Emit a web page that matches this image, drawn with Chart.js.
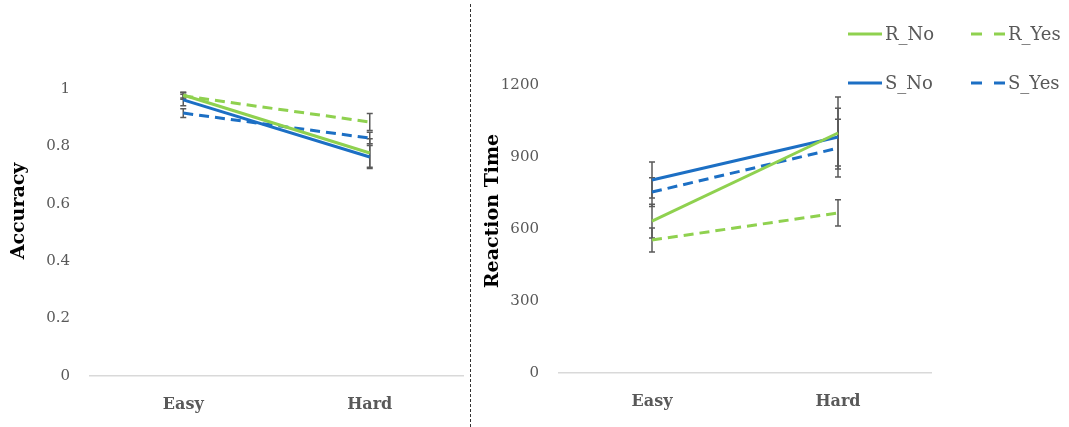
<!DOCTYPE html>
<html><head><meta charset="utf-8">
<script src="https://cdn.jsdelivr.net/npm/chart.js@4/dist/chart.umd.min.js"></script>
<style>
html,body{margin:0;padding:0;background:#fff;}
#wrap{position:relative;width:1069px;height:427px;overflow:hidden;background:#fff;}
#c1{position:absolute;left:0;top:0;width:468px;height:427px;}
#c2{position:absolute;left:472px;top:0;width:597px;height:427px;}
#sep{position:absolute;left:470px;top:4px;height:423px;border-left:1.5px dashed #333;}
</style></head><body>
<div id="wrap"><canvas id="c1" width="468" height="427"></canvas><div id="sep"></div><canvas id="c2" width="597" height="427"></canvas></div>
<script>
// ---- data ----
const categories = ['Easy', 'Hard'];
const seriesNames = ['R_No', 'R_Yes', 'S_No', 'S_Yes'];

const accR_No  = [0.979, 0.777];
const accR_Yes = [0.976, 0.885];
const accS_No  = [0.962, 0.763];
const accS_Yes = [0.916, 0.829];
const accErrR_No  = [0.010, 0.050];
const accErrR_Yes = [0.012, 0.030];
const accErrS_No  = [0.020, 0.040];
const accErrS_Yes = [0.015, 0.020];

const rtR_No  = [633, 1000];
const rtR_Yes = [554, 667];
const rtS_No  = [804, 983];
const rtS_Yes = [754, 937];
const rtErrR_No  = [70, 150];
const rtErrR_Yes = [50, 55];
const rtErrS_No  = [75, 120];
const rtErrS_Yes = [60, 120];

const accTicks = [0, 0.2, 0.4, 0.6, 0.8, 1];
const rtTicks = [0, 300, 600, 900, 1200];

// ---- styles ----
const GREEN = '#8FD14F';
const BLUE = '#1C6FC4';
const FONT = "'DejaVu Serif', serif";
const TICK_COLOR = '#595959';

function mkDatasets(vals, errs) {
  const colors = [GREEN, GREEN, BLUE, BLUE];
  const dashed = [false, true, false, true];
  return seriesNames.map((n, i) => ({
    label: n,
    data: vals[i],
    errors: errs[i],
    borderColor: colors[i],
    backgroundColor: colors[i],
    borderWidth: 3,
    borderDash: dashed[i] ? [10, 6] : [],
    pointRadius: 0,
    pointHoverRadius: 0,
    tension: 0,
    fill: false
  }));
}

const errorBarPlugin = {
  id: 'errorBars',
  beforeDatasetsDraw(chart) {
    const ctx = chart.ctx;
    const xs = chart.scales.x, ys = chart.scales.y;
    ctx.save();
    ctx.strokeStyle = '#5a5a5a';
    ctx.lineWidth = 1.5;
    ctx.setLineDash([]);
    chart.data.datasets.forEach(ds => {
      ds.data.forEach((v, i) => {
        const e = ds.errors[i];
        const x = xs.getPixelForValue(i);
        const yt = ys.getPixelForValue(v + e);
        const yb = ys.getPixelForValue(v - e);
        ctx.beginPath();
        ctx.moveTo(x, yt); ctx.lineTo(x, yb);
        ctx.moveTo(x - 3, yt); ctx.lineTo(x + 3, yt);
        ctx.moveTo(x - 3, yb); ctx.lineTo(x + 3, yb);
        ctx.stroke();
      });
    });
    ctx.restore();
  }
};

const axisTitlePlugin = {
  id: 'axisTitle',
  afterDraw(chart, args, opts) {
    const ctx = chart.ctx;
    ctx.save();
    ctx.translate(opts.x, opts.y);
    ctx.rotate(-Math.PI / 2);
    ctx.fillStyle = '#000';
    ctx.font = 'bold 19px ' + FONT;
    ctx.textAlign = 'center';
    ctx.textBaseline = 'middle';
    ctx.fillText(opts.text, 0, 0);
    ctx.restore();
  }
};

const legendPlugin = {
  id: 'customLegend',
  afterDraw(chart) {
    const ctx = chart.ctx;
    const cols = [376, 499];
    const rows = [34, 83];
    ctx.save();
    chart.data.datasets.forEach((ds, i) => {
      const x = cols[i % 2], y = rows[Math.floor(i / 2)];
      ctx.strokeStyle = ds.borderColor;
      ctx.lineWidth = 3;
      ctx.setLineDash(ds.borderDash.length ? [11, 12] : []);
      ctx.beginPath();
      ctx.moveTo(x, y); ctx.lineTo(x + 34, y);
      ctx.stroke();
      ctx.setLineDash([]);
      ctx.fillStyle = TICK_COLOR;
      ctx.font = '18px ' + FONT;
      ctx.textBaseline = 'middle';
      ctx.textAlign = 'left';
      ctx.fillText(ds.label, x + 37, y + 1);
    });
    ctx.restore();
  }
};

function mkOptions(ticksArr, title, titleX, yWidth, xHeight, padTop, padRight) {
  return {
    responsive: false,
    animation: false,
    devicePixelRatio: 1,
    layout: { padding: { top: padTop, right: padRight, left: 0, bottom: 0 } },
    plugins: {
      legend: { display: false },
      tooltip: { enabled: false },
      axisTitle: { text: title, x: titleX, y: 211 }
    },
    scales: {
      x: {
        type: 'category',
        offset: true,
        grid: { display: false, drawTicks: false },
        border: { display: true, color: '#d9d9d9', width: 1.5 },
        ticks: { color: TICK_COLOR, font: { family: FONT, size: 16, weight: 'bold' }, padding: 19 },
        afterFit(s) { s.height = xHeight; }
      },
      y: {
        min: ticksArr[0],
        max: ticksArr[ticksArr.length - 1],
        grid: { display: false, drawTicks: false },
        border: { display: false },
        afterBuildTicks(s) { s.ticks = ticksArr.map(v => ({ value: v })); },
        ticks: {
          color: TICK_COLOR,
          font: { family: FONT, size: 15 },
          padding: 20,
          callback: v => String(v)
        },
        title: { display: false },
        afterFit(s) { s.width = yWidth; }
      }
    }
  };
}

new Chart(document.getElementById('c1'), {
  type: 'line',
  data: {
    labels: categories,
    datasets: mkDatasets([accR_No, accR_Yes, accS_No, accS_Yes],
                         [accErrR_No, accErrR_Yes, accErrS_No, accErrS_Yes])
  },
  options: mkOptions(accTicks, 'Accuracy', 19, 90, 51, 89, 5),
  plugins: [errorBarPlugin, axisTitlePlugin]
});

new Chart(document.getElementById('c2'), {
  type: 'line',
  data: {
    labels: categories,
    datasets: mkDatasets([rtR_No, rtR_Yes, rtS_No, rtS_Yes],
                         [rtErrR_No, rtErrR_Yes, rtErrS_No, rtErrS_Yes])
  },
  options: mkOptions(rtTicks, 'Reaction Time', 21, 87, 54, 85, 138),
  plugins: [errorBarPlugin, axisTitlePlugin, legendPlugin]
});
</script>
</body></html>
